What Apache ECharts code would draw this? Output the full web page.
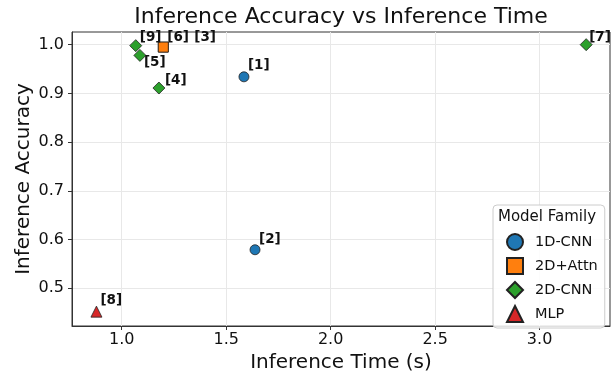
<!DOCTYPE html>
<html>
<head>
<meta charset="utf-8">
<script src="https://cdn.jsdelivr.net/npm/echarts@6/dist/echarts.min.js"></script>
<style>
  html, body { margin: 0; padding: 0; background: #fff; }
  #chart { width: 616px; height: 378px; }
</style>
</head>
<body>
<div id="chart"></div>
<script>
// data
const families = ['1D-CNN', '2D+Attn', '2D-CNN', 'MLP']
const cnn1dPoints = [[1.585, 0.934, '[1]'], [1.638, 0.579, '[2]']]
const attnPoints = [[1.199, 0.995, '[3]'], [1.199, 0.995, '[6]']]
const cnn2dPoints = [[1.067, 0.998, '[9]'], [1.087, 0.978, '[5]'], [1.178, 0.911, '[4]'], [3.223, 1.0, '[7]']]
const mlpPoints = [[0.879, 0.452, '[8]']]
const xTicks = [1.0, 1.5, 2.0, 2.5, 3.0]
const yTicks = [0.5, 0.6, 0.7, 0.8, 0.9, 1.0]

const FONT = 'DejaVu Sans'
// label offsets from the marker centre
const labelOffsets = {
  '[1]': [4, -11], '[2]': [4, -10], '[3]': [31, -10], '[4]': [6, -8],
  '[5]': [4, 7], '[6]': [4, -10], '[7]': [3, -7], '[8]': [4, -11], '[9]': [4, -8]
}

const toItems = points => points.map(p => ({
  value: [p[0], p[1]],
  name: p[2],
  label: {
    show: true,
    formatter: p[2],
    position: ['50%', '50%'],
    offset: labelOffsets[p[2]],
    align: 'left',
    verticalAlign: 'middle',
    fontFamily: FONT,
    fontWeight: 'bold',
    fontSize: 13.5,
    color: '#111'
  }
}))

const makeSeries = (name, points, symbol, size, color) => ({
  name: name,
  type: 'scatter',
  symbol: symbol,
  symbolSize: size,
  itemStyle: { color: color, borderColor: '#222', borderWidth: 0.8, opacity: 1 },
  emphasis: { disabled: true },
  data: toItems(points)
})

const chart = echarts.init(document.getElementById('chart'))
chart.setOption({
  animation: false,
  textStyle: { fontFamily: FONT },
  title: {
    text: 'Inference Accuracy vs Inference Time',
    left: 341,
    textAlign: 'center',
    top: 6,
    padding: 0,
    textStyle: { fontFamily: FONT, fontSize: 22, fontWeight: 'normal', color: '#111' }
  },
  grid: { left: 72, right: 6, top: 32, bottom: 51, show: true, borderColor: '#333', borderWidth: 1, backgroundColor: 'transparent' },
  xAxis: {
    type: 'value',
    min: 0.762,
    max: 3.337,
    name: 'Inference Time (s)',
    nameLocation: 'middle',
    nameGap: 27,
    nameMoveOverlap: false,
    nameTextStyle: { fontFamily: FONT, fontSize: 20, color: '#111' },
    axisLine: { show: true, lineStyle: { color: '#333' } },
    axisTick: { show: true, customValues: xTicks, length: 4, lineStyle: { color: '#333' } },
    axisLabel: { customValues: xTicks, margin: 6, fontSize: 16, color: '#111', fontFamily: FONT, formatter: v => v.toFixed(1) },
    splitLine: { show: true, lineStyle: { color: '#e8e8e8' } }
  },
  yAxis: {
    type: 'value',
    min: 0.4225,
    max: 1.026,
    name: 'Inference Accuracy',
    nameLocation: 'middle',
    nameGap: 38,
    nameMoveOverlap: false,
    nameTextStyle: { fontFamily: FONT, fontSize: 20, color: '#111' },
    axisLine: { show: true, lineStyle: { color: '#333' } },
    axisTick: { show: true, customValues: yTicks, length: 4, lineStyle: { color: '#333' } },
    axisLabel: { customValues: yTicks, margin: 8, fontSize: 16, color: '#111', fontFamily: FONT, formatter: v => v.toFixed(1) },
    splitLine: { show: true, lineStyle: { color: '#e8e8e8' } }
  },
  legend: {
    data: families,
    orient: 'vertical',
    left: 493,
    top: 205,
    padding: [28, 7, 5, 13],
    itemGap: 6,
    itemWidth: 16,
    itemHeight: 16,
    backgroundColor: 'rgba(255,255,255,0.85)',
    borderColor: '#ccc',
    borderWidth: 1,
    borderRadius: 4,
    textStyle: { fontFamily: FONT, fontSize: 14.5, color: '#111', padding: [0, 0, 0, 7] }
  },
  graphic: [{
    type: 'text',
    x: 547,
    y: 217,
    z: 100,
    style: { text: 'Model Family', font: '15px "DejaVu Sans"', fill: '#111', align: 'center', verticalAlign: 'middle' }
  }],
  series: [
    makeSeries('1D-CNN', cnn1dPoints, 'circle', 10, '#1f77b4'),
    makeSeries('2D+Attn', attnPoints, 'rect', 10, '#ff7f0e'),
    makeSeries('2D-CNN', cnn2dPoints, 'diamond', 12, '#2ca02c'),
    makeSeries('MLP', mlpPoints, 'triangle', 11, '#d62728')
  ]
})
</script>
</body>
</html>
